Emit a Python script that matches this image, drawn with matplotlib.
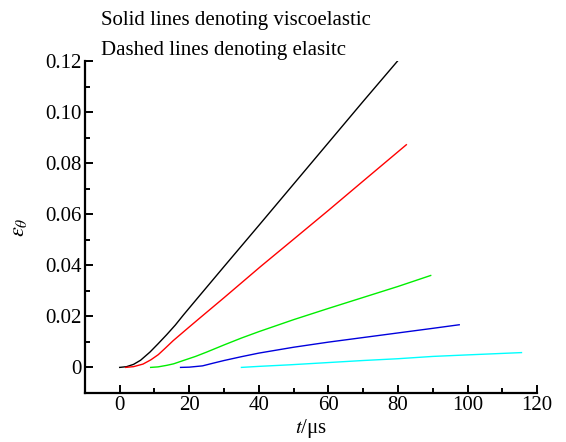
import numpy as np
import matplotlib
matplotlib.use("Agg")
import matplotlib.pyplot as plt
from matplotlib.ticker import MultipleLocator, FuncFormatter

plt.rcParams['font.family'] = ['Liberation Serif', 'DejaVu Serif']
plt.rcParams['mathtext.fontset'] = 'stix'

# hoop strain curves (t in us)
t_black = [0, 2, 4, 6, 8.7, 11, 13.5, 16, 18.3, 22.6, 30, 40, 50, 60, 70, 80.2]
e_black = [0, 0.0003, 0.0012, 0.0028, 0.006, 0.0092, 0.0128, 0.0166, 0.0205,
           0.0275, 0.0395, 0.0556, 0.0718, 0.088, 0.1042, 0.1205]

t_red = [1.7, 4, 6.7, 9, 11.1, 13, 15.4, 19.7, 23, 30, 40.5, 50, 60, 70, 82.4]
e_red = [0, 0.0003, 0.0013, 0.003, 0.005, 0.0074, 0.0105, 0.0155, 0.0193,
         0.0273, 0.0395, 0.0502, 0.0615, 0.073, 0.0872]

t_green = [8.9, 11, 13.5, 15.5, 18.3, 21.8, 25, 30, 35, 40, 50, 60, 70, 80, 89.4]
e_green = [0, 0.0002, 0.0008, 0.0014, 0.0027, 0.0043, 0.006, 0.0088, 0.0115,
           0.014, 0.0187, 0.0231, 0.0274, 0.0317, 0.036]

t_blue = [17.5, 20, 23.8, 27, 30, 35, 40, 50, 60, 70, 80, 90, 97.6]
e_blue = [0, 0.0001, 0.0006, 0.0017, 0.0027, 0.0042, 0.0056, 0.0079, 0.0099,
          0.0117, 0.0135, 0.0153, 0.0167]

t_cyan = [35, 40, 48.7, 60, 70, 80, 90, 100, 115.5]
e_cyan = [0, 0.0004, 0.001, 0.0019, 0.0027, 0.0034, 0.0043, 0.0049, 0.0058]

series = [(t_black, e_black, 'black'), (t_red, e_red, '#ff0000'),
          (t_green, e_green, '#00ee00'), (t_blue, e_blue, '#0000dd'),
          (t_cyan, e_cyan, '#00ffff')]

fig = plt.figure(figsize=(5.66, 4.42), dpi=100)
ax = fig.add_axes([0.150, 0.111, 0.799, 0.751])

for t, e, c in series:
    ax.plot(t, e, color=c, lw=1.0)

ax.set_xlim(-10, 120)
ax.set_ylim(-0.01, 0.12)
ax.xaxis.set_major_locator(MultipleLocator(20))
ax.xaxis.set_minor_locator(MultipleLocator(10))
ax.yaxis.set_major_locator(MultipleLocator(0.02))
ax.yaxis.set_minor_locator(MultipleLocator(0.01))
ax.yaxis.set_major_formatter(FuncFormatter(lambda v, p: '0' if abs(v) < 1e-9 else f'{v:.2f}'))

for side in ['top', 'right']:
    ax.spines[side].set_visible(False)
for side in ['left', 'bottom']:
    ax.spines[side].set_linewidth(1.6)
ax.tick_params(which='major', direction='in', length=6, width=1.4, labelsize=15, pad=2)
ax.tick_params(which='minor', direction='in', length=3.5, width=1.4)

ax.set_xlabel(r'$t$/μs', fontsize=15, labelpad=2)
ax.set_ylabel(r'$\varepsilon_\theta$', fontsize=16, labelpad=12)

fig.text(0.178, 0.943, 'Solid lines denoting viscoelastic', fontsize=15, va='baseline')
fig.text(0.178, 0.876, 'Dashed lines denoting elasitc', fontsize=15, va='baseline')

fig.savefig('out.png', dpi=100)
